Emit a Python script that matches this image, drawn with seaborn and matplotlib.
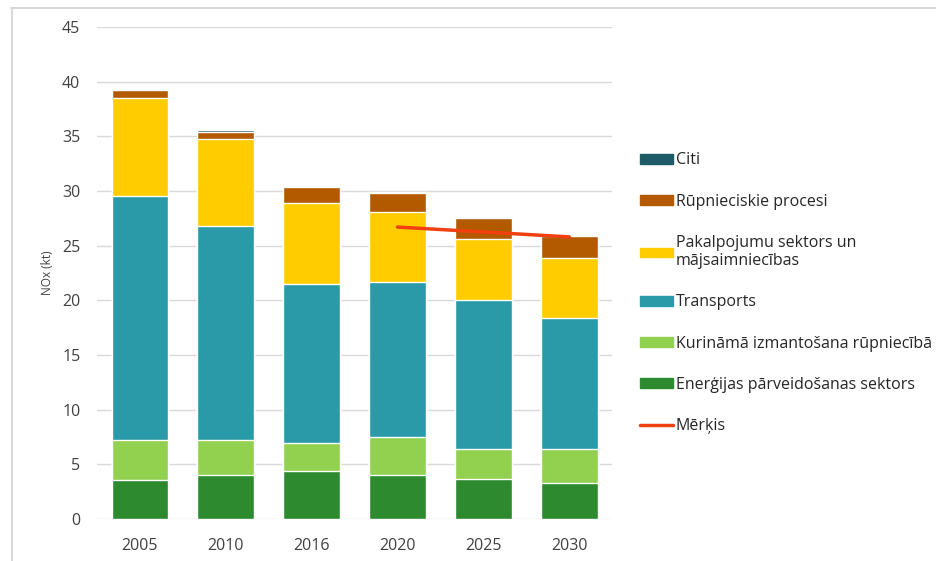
import seaborn as sns
import pandas as pd
import matplotlib.pyplot as plt
from matplotlib.patches import Patch
from matplotlib.lines import Line2D

years = ["2005", "2010", "2016", "2020", "2025", "2030"]

# sectors, bottom to top
energija = [3.6, 4.05, 4.35, 4.0, 3.7, 3.3]
kurinama = [3.6, 3.2, 2.6, 3.5, 2.7, 3.1]
transports = [22.3, 19.55, 14.55, 14.2, 13.6, 12.0]
pakalpojumu = [9.0, 8.0, 7.4, 6.35, 5.6, 5.5]
rupnieciskie = [0.7, 0.6, 1.5, 1.8, 1.9, 2.0]
citi = [0.05, 0.15, 0.05, 0.1, 0.1, 0.1]

target_years = ["2020", "2025", "2030"]
target = [26.7, 26.25, 25.8]

labels = [
    "Enerģijas pārveidošanas sektors",
    "Kurināmā izmantošana rūpniecībā",
    "Transports",
    "Pakalpojumu sektors un\nmājsaimniecības",
    "Rūpnieciskie procesi",
    "Citi",
]
colors = ["#2E8A2F", "#92D050", "#2A9AA8", "#FFCC00", "#B35A00", "#1E5B66"]

sns.set_style("white")
plt.rcParams["font.family"] = ["Open Sans", "DejaVu Sans"]

series = [energija, kurinama, transports, pakalpojumu, rupnieciskie, citi]
df = pd.DataFrame({"year": years})
running = [0.0] * len(years)
for lab, s in zip(labels, series):
    running = [a + b for a, b in zip(running, s)]
    df[lab] = running

fig = plt.figure(figsize=(9.36, 5.61), dpi=100)
ax = fig.add_axes([0.1036, 0.0749, 0.5505, 0.8770])

# draw cumulative totals from the top down so each layer shows
for lab, col in reversed(list(zip(labels, colors))):
    sns.barplot(data=df, x="year", y=lab, color=col, width=0.66,
                saturation=1, ax=ax, zorder=2)

pos = [years.index(y) for y in target_years]
ax.plot(pos, target, color="#F0400F", lw=2.5, zorder=3)

ax.set_ylim(0, 45)
ax.set_xlim(-0.5, 5.5)
ax.set_yticks(range(0, 46, 5))
ax.yaxis.grid(True, color="#D9D9D9", lw=1, zorder=0)
ax.set_axisbelow(True)
for sp in ax.spines.values():
    sp.set_visible(False)
ax.tick_params(axis="both", length=0, labelsize=11.5, colors="#404040",
               pad=12)
ax.tick_params(axis="x", pad=13.5)
ax.set_xlabel("")
ax.set_ylabel("NOx (kt)", fontsize=8.5, color="#404040", labelpad=6)

handles = [Patch(color=c) for c in reversed(colors)]
handles.append(Line2D([0], [0], color="#F0400F", lw=2.5))
leg_labels = list(reversed(labels)) + ["Mērķis"]
fig.legend(handles, leg_labels, loc="upper left",
           bbox_to_anchor=(0.668, 0.754), frameon=False, fontsize=11.5,
           labelspacing=1.58, handlelength=2.1, handleheight=0.55,
           handletextpad=0.15, labelcolor="#262626")

# thin frame on the top and left edges like the source image
fig.add_artist(Line2D([0.012, 1.0], [0.986, 0.986], color="#D9D9D9",
                      lw=1.5, transform=fig.transFigure))
fig.add_artist(Line2D([0.0125, 0.0125], [0.0, 0.986], color="#D9D9D9",
                      lw=1.5, transform=fig.transFigure))

fig.savefig("out.png", dpi=100)
